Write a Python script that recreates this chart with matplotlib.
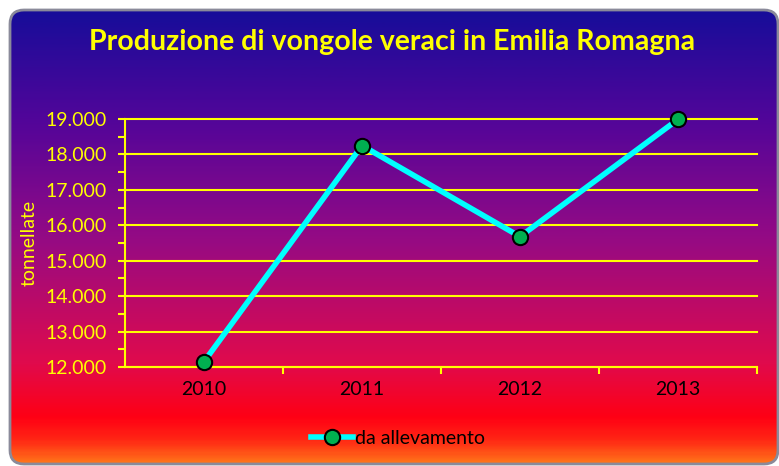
import matplotlib.pyplot as plt
import numpy as np
from matplotlib.patches import FancyBboxPatch
from matplotlib.colors import LinearSegmentedColormap
from matplotlib.lines import Line2D

# data
anni = ["2010", "2011", "2012", "2013"]
tonnellate = [12150, 18250, 15680, 18990]
serie = "da allevamento"
titolo = "Produzione di vongole veraci in Emilia Romagna"

W, H = 779, 466
fig = plt.figure(figsize=(W / 100, H / 100), dpi=100)
fig.patch.set_facecolor("white")

# background with gradient (pixel coords, y down)
bg = fig.add_axes([0, 0, 1, 1])
bg.set_xlim(0, W)
bg.set_ylim(H, 0)
bg.axis("off")
grad = LinearSegmentedColormap.from_list("g", [
    (0.00, (0.09, 0.05, 0.60)),
    (0.25, (0.33, 0.02, 0.60)),
    (0.50, (0.58, 0.04, 0.52)),
    (0.78, (0.88, 0.04, 0.30)),
    (0.90, (1.00, 0.00, 0.08)),
    (0.95, (1.00, 0.15, 0.08)),
    (1.00, (1.00, 0.45, 0.10)),
])
img = bg.imshow(np.linspace(0, 1, 300)[:, None], cmap=grad, aspect="auto",
                extent=[10, 778, 464, 10], zorder=1)
frame = FancyBboxPatch((10, 10), 768, 454, boxstyle="round,pad=0,rounding_size=14",
                       facecolor="none", edgecolor="#8a8a9a", linewidth=2, zorder=2)
bg.add_patch(frame)
img.set_clip_path(frame)

bg.text(W / 2 + 3, 42, titolo, ha="center", va="center", color="#ffff00",
        fontsize=20.5, fontweight="bold", family="Lato")

ax = fig.add_axes([125 / W, 1 - 367 / H, (757 - 125) / W, (367 - 119) / H])
ax.set_facecolor("none")
x = np.arange(len(anni))
ax.plot(x, tonnellate, color="#00ffff", linewidth=4, marker="o", markersize=11,
        markerfacecolor="#00b050", markeredgecolor="black", markeredgewidth=1.5,
        zorder=3, clip_on=False, solid_capstyle="butt")

ax.set_xlim(-0.5, 3.5)
ax.set_ylim(12000, 19000)
ax.set_yticks(np.arange(12000, 19001, 1000))
ax.set_yticks(np.arange(12500, 19000, 1000), minor=True)
ax.set_yticklabels([f"{v:,}".replace(",", ".") for v in range(12000, 19001, 1000)])
ax.set_xticks(np.arange(0.5, 3.6, 1))
ax.set_xticklabels([])
ax.set_xticks(x, minor=True)
ax.set_xticklabels(anni, minor=True)
ax.tick_params(axis="x", which="minor", length=0, pad=10, labelsize=14, labelcolor="black")
ax.tick_params(axis="x", which="major", length=5, color="#ffff00", width=1.5)
ax.tick_params(axis="y", which="both", length=5, color="#ffff00", width=1.5,
               labelsize=14, labelcolor="#ffff00", pad=8)
for lab in ax.get_yticklabels() + ax.get_xticklabels(minor=True):
    lab.set_family("Lato")

ax.grid(axis="y", color="#ffff00", linewidth=1.5)
for gl in ax.get_ygridlines():
    gl.set_clip_on(False)
for s in ["top", "right"]:
    ax.spines[s].set_visible(False)
for s in ["left", "bottom"]:
    ax.spines[s].set_color("#ffff00")
    ax.spines[s].set_linewidth(1.5)
ax.set_ylabel("tonnellate", color="#ffff00", fontsize=14, family="Lato", labelpad=6)

h = Line2D([], [], color="#00ffff", linewidth=4, marker="o", markersize=11,
           markerfacecolor="#00b050", markeredgecolor="black", markeredgewidth=1.5)
fig.legend([h], [serie], loc="center", bbox_to_anchor=(398 / W, 1 - 438 / H),
           frameon=False, prop={"family": "Lato", "size": 14},
           handlelength=2.2, handletextpad=0.1)

fig.savefig("out.png", dpi=100)
